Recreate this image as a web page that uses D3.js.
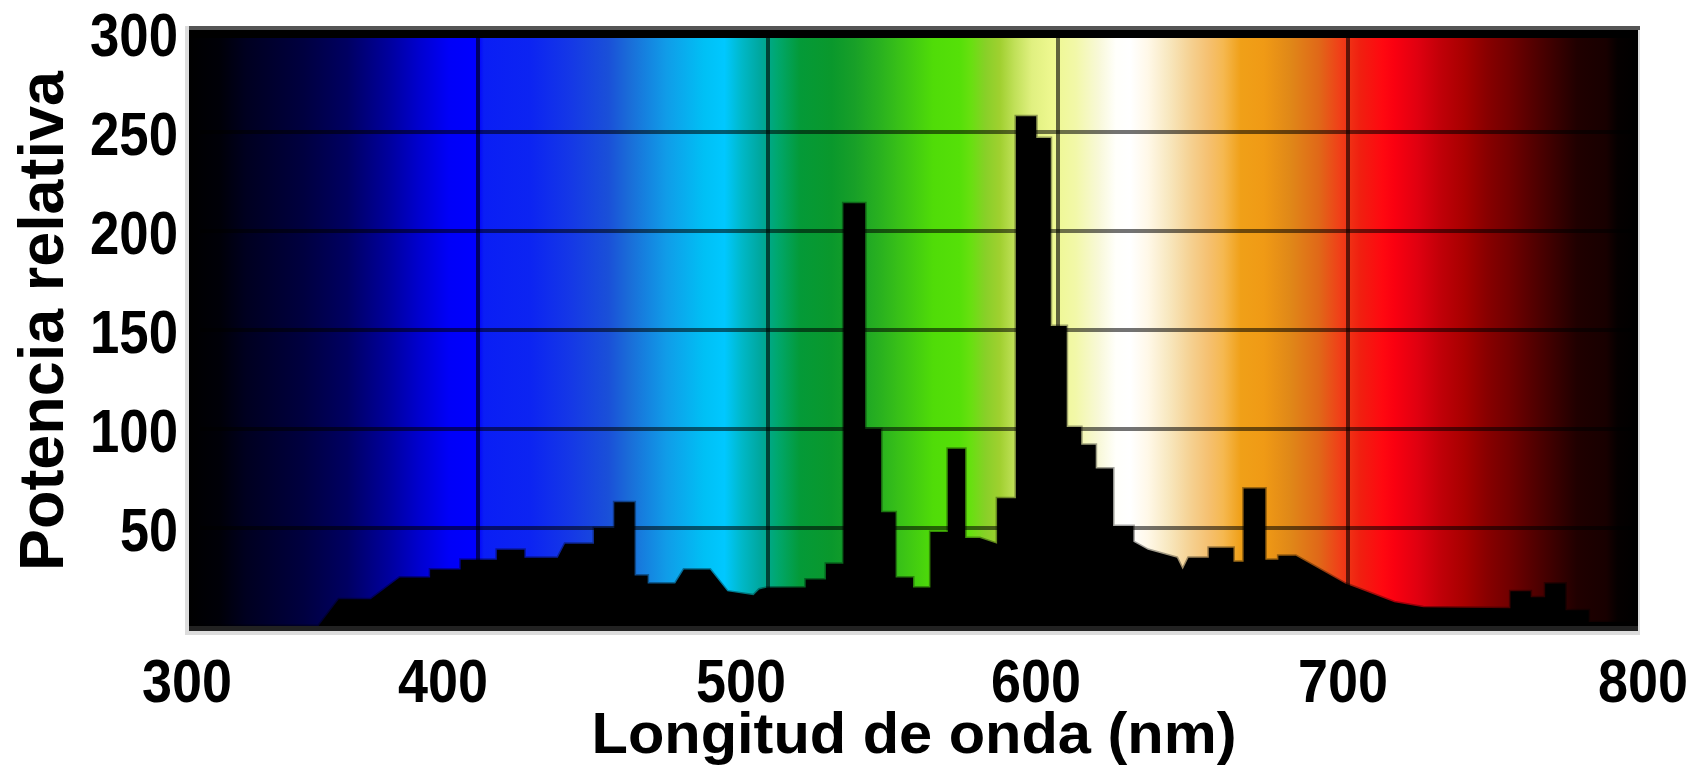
<!DOCTYPE html>
<html>
<head>
<meta charset="utf-8">
<script src="https://cdn.jsdelivr.net/npm/d3@7"></script>
<style>
body{margin:0;background:#fff;}
svg{display:block;font-family:"Liberation Sans",Arial,sans-serif;font-weight:bold;}
</style>
</head>
<body>
<div id="chart-area"></div>
<script>
// spectrum: wavelength (nm) and relative power
// (repeated wavelengths are the vertical edges of the steps)
const wavelength = [300,345,352,363,373,383.5,383.5,394,394,406.5,406.5,416,416,427.5,430,440,440,447,447,454,
    454,458.5,458.5,468,471,480,486,495,497,500,513,513,520,520,526,526,533.5,533.5,539,539,
    544,544,550,550,556,556,562,562,568,568,573,579,579,585.5,585.5,592.5,592.5,597.5,597.5,603,
    603,608,608,613,613,619,619,626,626,631,641,643,645,652,652,660.5,660.5,664,664,671.5,
    671.5,676,676,682,699,716,726,756,756,763,763,768,768,775,775,783,783,793,800];
const power = [0.5,0.5,14,14,25,25,29,29,34,34,39,39,35,35,42,42,50,50,63,63,
    26,26,22,22,29,29,18,16,19,20,20,24,24,32,32,214,214,100,100,58,
    58,25,25,20,20,48,48,90,90,45,45,42,65,65,258,258,247,247,152,152,
    101,101,92,92,80,80,51,51,43,39,35,29,35,35,40,40,33,33,70,70,
    34,34,36,36,22,12.5,10,9.5,18,18,15,15,22,22,8.5,8.5,2.5,2.5,2];

const xTicks = [300,400,500,600,700,800];
const yTicks = [50,100,150,200,250,300];
const xGrid = [400,500,600,700];
const yGrid = [50,100,150,200,250];

// colour of the background band along the wavelength axis
const bandNm = [300,311,320,340,355,370,380,390,400,402,418,432,445,452,465,478,485,491,497,503,
    511,522,530,538,545,557,566,570,575,580,585,591,598,606,614,620,625,631,638,646,
    652,657,663,671,680,690,697,704,712,716,724,732,740,748,756,765,772,779,789,793,800];
const bandColor = ['#000000','#000008','#000020','#000040','#000062','#0000a0','#0000d0','#0000f8','#0000ff','#0a1ef5',
    '#0c24f2','#1538e6','#1a50d8','#1a6cd8','#109ce8','#00c0f5','#00c8ff','#00b8c8','#00a8a0','#00a870',
    '#049a38','#0a982c','#18a028','#28b020','#38c018','#50dc08','#55e008','#68e010','#88d028','#a0d030',
    '#c0e058','#e0f080','#eef890','#f2f8a8','#f8f8d8','#fffffb','#ffffff','#fff8e8','#f8e8c0','#f5d090',
    '#f5c070','#f5b850','#f0a018','#f09a15','#e08818','#e06818','#f04018','#f02010','#ff0810','#fa0010',
    '#e00010','#c00008','#a80000','#880000','#700000','#500000','#380000','#200000','#180000','#050000','#000000'];

const width = 1704;
const height = 766;

const svg = d3.select('#chart-area').append('svg')
    .attr('width', width)
    .attr('height', height);

const x = d3.scaleLinear().domain([300, 800]).range([188, 1638]);
const y = d3.scaleLinear().domain([0, 300]).range([627, 33]);

const pLeft = x.range()[0], pRight = x.range()[1];
const pTop = y.range()[1], pBottom = y.range()[0];

// gradient for the colour band
const defs = svg.append('defs');
const grad = defs.append('linearGradient')
    .attr('id', 'band')
    .attr('gradientUnits', 'userSpaceOnUse')
    .attr('x1', x(300)).attr('x2', x(800))
    .attr('y1', 0).attr('y2', 0);
grad.selectAll('stop')
    .data(bandNm)
    .join('stop')
    .attr('offset', d => (d - 300) / 500)
    .attr('stop-color', (d, i) => bandColor[i]);

defs.append('clipPath').attr('id', 'plotclip')
    .append('rect')
    .attr('x', pLeft + 1).attr('y', pTop + 5)
    .attr('width', pRight - pLeft - 2).attr('height', pBottom - pTop - 6);

// frame
svg.append('rect')
    .attr('x', pLeft - 3).attr('y', pTop - 7)
    .attr('width', pRight - pLeft + 5).attr('height', pBottom - pTop + 15)
    .attr('fill', '#dcdcdc');
svg.append('rect')
    .attr('x', pLeft + 1).attr('y', pTop - 3)
    .attr('width', pRight - pLeft - 1).attr('height', pBottom - pTop + 7)
    .attr('fill', '#000');
svg.append('rect')
    .attr('x', pLeft + 1).attr('y', pTop - 7)
    .attr('width', pRight - pLeft + 1).attr('height', 4)
    .attr('fill', '#555');
svg.append('rect')
    .attr('x', pLeft + 1).attr('y', pBottom - 1)
    .attr('width', pRight - pLeft - 1).attr('height', 5)
    .attr('fill', '#222');

const plot = svg.append('g').attr('clip-path', 'url(#plotclip)');

plot.append('rect')
    .attr('x', pLeft + 1).attr('y', pTop + 5)
    .attr('width', pRight - pLeft - 7).attr('height', pBottom - pTop - 6)
    .attr('fill', 'url(#band)');

// grid
plot.append('g').selectAll('line')
    .data(yGrid)
    .join('line')
    .attr('x1', pLeft + 12).attr('x2', pRight - 6)
    .attr('y1', d => y(d)).attr('y2', d => y(d))
    .attr('stroke', '#000').attr('stroke-opacity', 0.55)
    .attr('stroke-width', 4);
plot.append('g').selectAll('line')
    .data(xGrid)
    .join('line')
    .attr('x1', d => x(d)).attr('x2', d => x(d))
    .attr('y1', pTop).attr('y2', pBottom)
    .attr('stroke', '#000').attr('stroke-opacity', 0.6)
    .attr('stroke-width', 4);

// spectrum
const spec = wavelength.map((w, i) => ({nm: w, p: power[i]}));
const area = d3.area()
    .x(d => x(d.nm))
    .y0(y(0))
    .y1(d => y(d.p));
plot.append('path')
    .datum(spec)
    .attr('d', area)
    .attr('fill', '#000')
    .attr('stroke', '#000')
    .attr('stroke-opacity', 0.35)
    .attr('stroke-width', 3);

// tick labels (the original labels sit a bit off their grid lines)
const xTickShift = [-1, -35, -27, -22, -5, 5];
svg.append('g').selectAll('text')
    .data(xTicks)
    .join('text')
    .attr('x', (d, i) => x(d) + xTickShift[i])
    .attr('y', 702)
    .attr('text-anchor', 'middle')
    .attr('font-size', 61)
    .attr('textLength', 90)
    .attr('lengthAdjust', 'spacingAndGlyphs')
    .text(d => d);

svg.append('g').selectAll('text')
    .data(yTicks)
    .join('text')
    .attr('x', 178)
    .attr('y', d => y(d) + 23)
    .attr('text-anchor', 'end')
    .attr('font-size', 61)
    .attr('textLength', d => String(d).length * 30 - 2)
    .attr('lengthAdjust', 'spacingAndGlyphs')
    .text(d => d);

// axis titles
svg.append('text')
    .attr('x', 914)
    .attr('y', 753)
    .attr('text-anchor', 'middle')
    .attr('font-size', 57)
    .attr('textLength', 645)
    .attr('lengthAdjust', 'spacingAndGlyphs')
    .text('Longitud de onda (nm)');

svg.append('text')
    .attr('transform', 'translate(63,321) rotate(-90)')
    .attr('text-anchor', 'middle')
    .attr('font-size', 63)
    .attr('textLength', 500)
    .attr('lengthAdjust', 'spacingAndGlyphs')
    .text('Potencia relativa');
</script>
</body>
</html>
